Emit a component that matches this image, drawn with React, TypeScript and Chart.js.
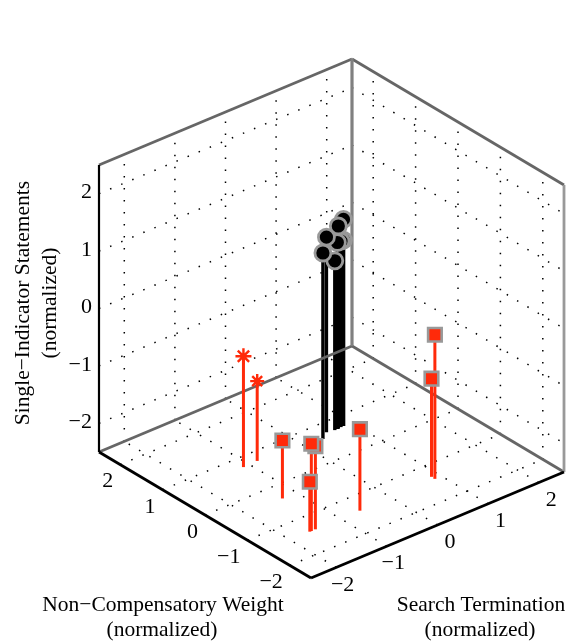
import React, { useEffect, useRef } from "react";
import { Chart, registerables } from "chart.js";

Chart.register(...registerables);

// Data: x = Search Termination, y = Non-Compensatory Weight, z = Single-Indicator Statements
const blackX = [0.84, 0.84, 0.79, 0.71, 0.66, 0.73, 0.52, 0.35];
const blackY = [0.72, 0.72, 0.72, 0.71, 0.71, 0.71, 0.74, 0.62];
const blackZ = [1.10, 0.74, 0.74, 0.75, 0.45, 1.03, 0.90, 0.74];

const squareX = [-1.28, -1.50, -1.58, -1.61, -0.62, 0.87, 0.87];
const squareY = [-0.37, -1.41, -1.41, -1.41, -1.41, -1.40, -1.32];
const squareZ = [-1.49, -1.05, -0.98, -1.63, -1.08, 0.01, -0.79];

const starX = [-1.12, -0.84];
const starY = [0.74, 0.75];
const starZ = [-0.57, -1.11];
const starSizes = [8, 7];

const ticks = [-2, -1, 0, 1, 2];
const tickLabels = ["\u22122", "\u22121", "0", "1", "2"];
const LO = -2.5;
const HI = 2.5;

const xTitle = ["Search Termination", "(normalized)"];
const yTitle = ["Non\u2212Compensatory Weight", "(normalized)"];
const zTitle = ["Single\u2212Indicator Statements", "(normalized)"];

const RED = "#ff2a0a";
const FONT = '"Liberation Serif", serif';

// oblique 3D view: where the front floor corner sits and what one data unit adds
function project(x: number, y: number, z: number) {
  const a = x - LO;
  const b = y - LO;
  const c = z - LO;
  return {
    x: 311 + 50.6 * a - 42.4 * b,
    y: 578 - 21.2 * a - 25.2 * b - 57.4 * c,
  };
}

type P = [number, number, number];

function line(from: P, to: P, color: string, width: number, dash?: number[]) {
  return {
    data: [project(...from), project(...to)],
    showLine: true,
    borderColor: color,
    borderWidth: width,
    borderDash: dash ?? [],
    borderCapStyle: "butt" as const,
    pointRadius: 0,
    pointHoverRadius: 0,
    tension: 0,
  };
}

function buildDatasets() {
  const sets: any[] = [];
  const dots = [1.5, 10.5];
  const dotColor = "#000";
  // dotted grid on the two walls and the floor
  for (const t of ticks) {
    sets.push(line([t, HI, LO], [t, HI, HI], dotColor, 1.5, dots));
    sets.push(line([LO, HI, t], [HI, HI, t], dotColor, 1.5, dots));
    sets.push(line([HI, t, LO], [HI, t, HI], dotColor, 1.5, dots));
    sets.push(line([HI, HI, t], [HI, LO, t], dotColor, 1.5, dots));
    sets.push(line([t, LO, LO], [t, HI, LO], dotColor, 1.5, dots));
    sets.push(line([LO, t, LO], [HI, t, LO], dotColor, 1.5, dots));
  }
  // black stems
  blackX.forEach((x, i) => {
    sets.push(line([x, blackY[i], LO], [x, blackY[i], blackZ[i]], "#000", 3.4));
  });
  // box
  const grey = "#666666";
  sets.push(line([LO, HI, LO], [HI, HI, LO], grey, 2.8));
  sets.push(line([HI, HI, LO], [HI, LO, LO], grey, 2.8));
  sets.push(line([LO, HI, HI], [HI, HI, HI], grey, 2.8));
  sets.push(line([HI, HI, HI], [HI, LO, HI], grey, 2.8));
  sets.push(line([HI, HI, LO], [HI, HI, HI], "#808080", 3.2));
  sets.push(line([HI, LO, LO], [HI, LO, HI], "#999999", 2.8));
  sets.push(line([LO, HI, LO], [LO, HI, HI], "#000", 2.2));
  sets.push(line([LO, HI, LO], [LO, LO, LO], "#000", 2.8));
  sets.push(line([LO, LO, LO], [HI, LO, LO], "#000", 2.8));
  // red stems
  starX.forEach((x, i) => {
    sets.push(line([x, starY[i], LO], [x, starY[i], starZ[i]], RED, 3));
  });
  squareX.forEach((x, i) => {
    sets.push(line([x, squareY[i], LO], [x, squareY[i], squareZ[i]], RED, 3));
  });
  // markers
  sets.push({
    data: squareX.map((x, i) => project(x, squareY[i], squareZ[i])),
    pointStyle: "rect",
    pointRadius: 9.6,
    pointHoverRadius: 9.6,
    pointBackgroundColor: RED,
    pointBorderColor: "#999999",
    pointBorderWidth: 2.6,
  });
  sets.push({
    data: starX.map((x, i) => project(x, starY[i], starZ[i])),
    pointStyle: "star",
    pointRadius: starSizes,
    pointHoverRadius: starSizes,
    pointBackgroundColor: RED,
    pointBorderColor: RED,
    pointBorderWidth: 2.4,
  });
  sets.push({
    data: blackX.map((x, i) => project(x, blackY[i], blackZ[i])),
    pointStyle: "circle",
    pointRadius: 8,
    pointHoverRadius: 8,
    pointBackgroundColor: "#000",
    pointBorderColor: "#999999",
    pointBorderWidth: 2.8,
  });
  // Chart.js paints the first dataset last
  return sets.reverse();
}

const axisText = {
  id: "axisText",
  afterDatasetsDraw(chart: any) {
    const { ctx, scales } = chart;
    const at = (p: { x: number; y: number }) => ({
      x: scales.x.getPixelForValue(p.x),
      y: scales.y.getPixelForValue(p.y),
    });
    ctx.save();
    ctx.fillStyle = "#000";
    ctx.textBaseline = "middle";
    ctx.font = `22px ${FONT}`;
    ctx.textAlign = "right";
    ticks.forEach((t, i) => {
      const pz = at(project(LO, HI, t));
      ctx.fillText(tickLabels[i], pz.x - 7, pz.y - 1);
      const py = at(project(LO, t, LO));
      ctx.fillText(tickLabels[i], py.x - 7, py.y + 17);
      const px = at(project(t, LO, LO));
      ctx.fillText(tickLabels[i], px.x + 18, px.y + 17.5);
    });
    ctx.textAlign = "center";
    ctx.font = `21.5px ${FONT}`;
    ctx.fillText(yTitle[0], 163, 605);
    ctx.fillText(yTitle[1], 162, 630);
    ctx.fillText(xTitle[0], 481, 605);
    ctx.fillText(xTitle[1], 480, 630);
    ctx.save();
    ctx.translate(23, 303);
    ctx.rotate(-Math.PI / 2);
    ctx.fillText(zTitle[0], 0, 0);
    ctx.restore();
    ctx.save();
    ctx.translate(50, 303);
    ctx.rotate(-Math.PI / 2);
    ctx.fillText(zTitle[1], 0, 0);
    ctx.restore();
    ctx.restore();
  },
};

export default function App() {
  const ref = useRef<HTMLCanvasElement | null>(null);
  useEffect(() => {
    if (!ref.current) return;
    const chart = new Chart(ref.current, {
      type: "scatter",
      data: { datasets: buildDatasets() },
      options: {
        animation: false,
        responsive: false,
        layout: { padding: 0, autoPadding: false },
        plugins: { legend: { display: false }, tooltip: { enabled: false } },
        scales: {
          x: { type: "linear", display: false, min: 0, max: 570 },
          y: { type: "linear", display: false, min: 0, max: 642, reverse: true },
        },
      },
      plugins: [axisText],
    } as any);
    return () => chart.destroy();
  }, []);
  return (
    <div style={{ position: "absolute", left: 0, top: 0, width: 570, height: 642, background: "#fff" }}>
      <canvas ref={ref} width={570} height={642} style={{ display: "block" }} />
    </div>
  );
}
